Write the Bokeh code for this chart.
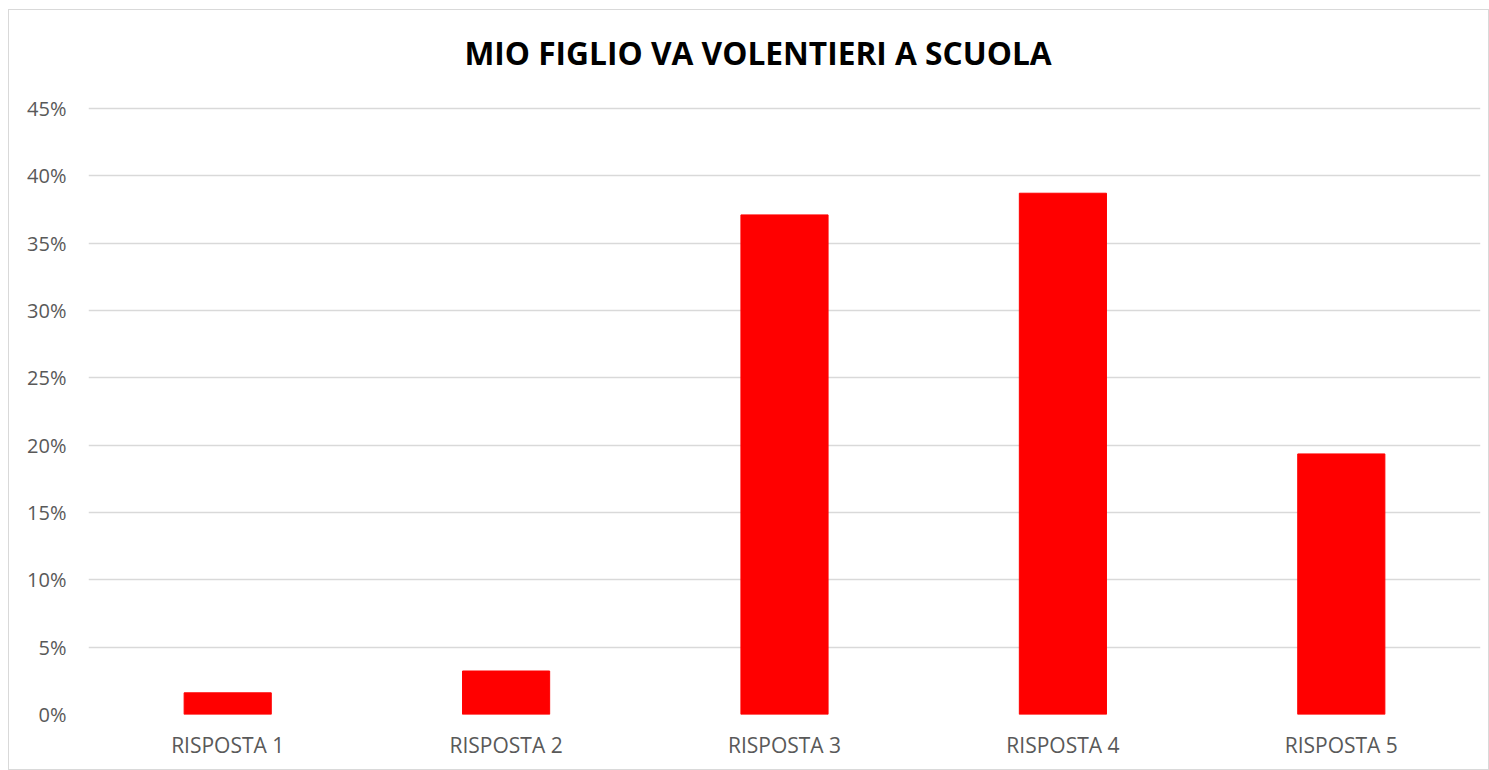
from bokeh.plotting import figure
from bokeh.models import NumeralTickFormatter, FixedTicker, Range1d, Label
from bokeh.embed import file_html
from bokeh.resources import INLINE

title_text = "MIO FIGLIO VA VOLENTIERI A SCUOLA"
categories = ["RISPOSTA 1", "RISPOSTA 2", "RISPOSTA 3", "RISPOSTA 4", "RISPOSTA 5"]
values = [0.0161, 0.0323, 0.3710, 0.3871, 0.1935]
y_ticks = [0, 0.05, 0.10, 0.15, 0.20, 0.25, 0.30, 0.35, 0.40, 0.45]

# frame extends to the top of the canvas so the title can live inside it
p = figure(x_range=categories, y_range=Range1d(0, 0.5228),
           width=1481, height=761, output_backend="svg", toolbar_location=None,
           min_border_left=79, min_border_right=10, min_border_top=0, min_border_bottom=57)
p.margin = (9, 0, 0, 8)

p.vbar(x=categories, top=values, width=0.313, color="#ff0000")

title = Label(x=2.405, y=0.4916, text=title_text, text_align="center",
              text_baseline="alphabetic", text_font="Open Sans",
              text_font_size="31.7px", text_font_style="bold", text_color="#000000")
p.add_layout(title)

p.yaxis.ticker = FixedTicker(ticks=y_ticks)
p.yaxis.formatter = NumeralTickFormatter(format="0%")
for ax in (p.xaxis[0], p.yaxis[0]):
    ax.axis_line_color = None
    ax.major_tick_line_color = None
    ax.minor_tick_line_color = None
    ax.major_label_text_font = "Open Sans"
    ax.major_label_text_color = "#595959"
p.yaxis.major_label_text_font_size = "20px"
p.xaxis.major_label_text_font_size = "21px"
p.yaxis.major_label_standoff = 16
p.xaxis.major_label_standoff = 10

p.xgrid.grid_line_color = None
p.ygrid.grid_line_color = "#d9d9d9"
p.ygrid.grid_line_width = 1.5
p.outline_line_color = None
p.styles = {"border": "1px solid #d9d9d9"}

open("out.html", "w").write(file_html(p, INLINE))
